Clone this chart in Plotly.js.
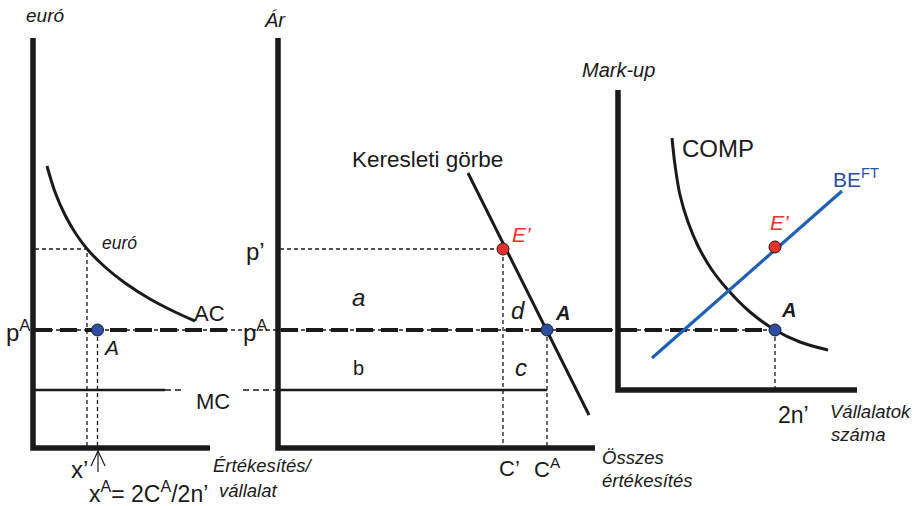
<!DOCTYPE html>
<html>
<head>
<meta charset="utf-8">
<script src="https://cdn.plot.ly/plotly-3.0.1.min.js"></script>
<style>html,body{margin:0;padding:0;background:#fff;}#chart{width:914px;height:506px;}</style>
</head>
<body>
<div id="chart"></div>
<script>
// ---- Data (diagram coordinates) ----
// Panel 1: firm
const p1AxisX = [33, 33, 210];
const p1AxisY = [38, 448, 448];
const acCurveX = [47, 55, 65, 76, 88, 105, 125, 150, 175, 195];
const acCurveY = [166, 192, 215, 234, 250, 267, 283, 299, 312, 321];
const mcSolidX = [35, 165];
const mcSolidY = [390, 390];
const mcDashX = [[165, 182], [243, 278]];
const mcDashY = [[390, 390], [390, 390]];
// Panel 2: market
const p2AxisX = [278, 278, 595];
const p2AxisY = [38, 448, 448];
const demandX = [468, 589];
const demandY = [173, 415];
const mc2X = [278, 547];
const mc2Y = [390, 390];
// Panel 3: mark-up
const p3AxisX = [618, 618, 857];
const p3AxisY = [90, 390, 390];
const compX = [672, 675, 680, 688, 698, 712, 728, 750, 775, 800, 828];
const compY = [138, 165, 195, 222, 246, 270, 290, 312, 330, 342, 350];
const beX = [652, 842];
const beY = [358, 191];
// Reference levels
const pPrimeY = 249, pAY = 330;
const xPrime = 87, xA = 97.5, cPrime = 503, cA = 547, nA = 775;
// Points
const bluePtsX = [xA, cA, nA];
const bluePtsY = [pAY, pAY, pAY];
const redPtsX = [cPrime, nA];
const redPtsY = [pPrimeY, 247];

const INK = '#1a1a1a';
const traces = [];
function line(x, y, w, color, dash, shape) {
  traces.push({x: x, y: y, type: 'scatter', mode: 'lines', hoverinfo: 'skip',
    line: {width: w, color: color || INK, dash: dash || 'solid', shape: shape || 'linear', smoothing: 1}});
}
const thinDash = '4px,3px';
// axes
line(p1AxisX, p1AxisY, 5.5);
line(p2AxisX, p2AxisY, 5.5);
line(p3AxisX, p3AxisY, 5.5);
// thin dashed guides
line([35, xPrime, xPrime], [pPrimeY, pPrimeY, 448], 1.3, INK, thinDash);
line([xA, xA], [pAY, 448], 1.3, INK, thinDash);
line([280, cPrime, cPrime], [pPrimeY, pPrimeY, 448], 1.3, INK, thinDash);
line([cA, cA], [pAY, 448], 1.3, INK, thinDash);
line([nA, nA], [pAY, 390], 1.3, INK, thinDash);
line([35, nA], [pAY, pAY], 1.3, INK, thinDash);
// thick dashed pA line
line([35, 227], [pAY, pAY], 4, INK, '17px,8px');
line([281, 603], [pAY, pAY], 4, INK, '17px,8px');
line([570, nA], [pAY, pAY], 4, INK, '17px,8px');
// MC
line(mcSolidX, mcSolidY, 2.5);
mcDashX.forEach((x, i) => line(x, mcDashY[i], 1.3, INK, '6px,4px'));
line(mc2X, mc2Y, 2.5);
// curves
line(acCurveX, acCurveY, 3, INK, 'solid', 'spline');
line(demandX, demandY, 3);
line(compX, compY, 3, INK, 'solid', 'spline');
line(beX, beY, 3.2, '#1f5fb4');
// arrow at xA
line([98, 98], [472, 451], 1.2);
line([91, 98, 105], [466, 451, 466], 1.2);
// points
traces.push({x: bluePtsX, y: bluePtsY, type: 'scatter', mode: 'markers', hoverinfo: 'skip',
  marker: {size: 12, color: '#2b4ea3', line: {color: '#1a1a1a', width: 1}}});
traces.push({x: redPtsX, y: redPtsY, type: 'scatter', mode: 'markers', hoverinfo: 'skip',
  marker: {size: 12, color: '#e8302a', line: {color: '#1a1a1a', width: 1}}});

const F = 'Liberation Sans, Arial, sans-serif';
function ann(x, y, text, size, opts) {
  opts = opts || {};
  return {x: x, y: y, xref: 'x', yref: 'y', text: text, showarrow: false, borderpad: 0,
    font: {family: F, size: size, color: opts.color || INK}, xanchor: opts.xa || 'left', yanchor: 'middle'};
}
const it = s => '<i>' + s + '</i>';
const annotations = [
  ann(25, 15, it('euró'), 19),
  ann(101, 243, it('euró'), 17.5),
  ann(193, 313, 'AC', 22),
  ann(5, 331, 'p<sup>A</sup>', 24),
  ann(102, 347, it('A'), 21),
  ann(195, 401, 'MC', 22),
  ann(70, 469, 'x’', 24),
  ann(88, 492, 'x<sup>A</sup>= 2C<sup>A</sup>/2n’', 23),
  ann(212, 465, it('Értékesítés/'), 18.5),
  ann(218, 490, it('vállalat'), 18.5),
  ann(263, 20, it('Ár'), 20),
  ann(245, 251, 'p’', 24),
  ann(242, 331, 'p<sup>A</sup>', 24),
  ann(351, 297, it('a'), 24),
  ann(352, 368, 'b', 20),
  ann(514, 367, it('c'), 24),
  ann(510, 310, it('d'), 24),
  ann(554, 313, '<b><i>A</i></b>', 20),
  ann(511, 234, it('E’'), 21, {color: '#e8302a'}),
  ann(351, 159, 'Keresleti görbe', 22.5),
  ann(498, 468, 'C’', 22),
  ann(533, 468, 'C<sup>A</sup>', 22),
  ann(601, 457, it('Összes'), 18.5),
  ann(601, 480, it('értékesítés'), 18.5),
  ann(581, 70, it('Mark-up'), 20),
  ann(681, 148, 'COMP', 24),
  ann(832, 178, 'BE<sup>FT</sup>', 21, {color: '#2b4ea3'}),
  ann(769, 222, it('E’'), 21, {color: '#e8302a'}),
  ann(780, 310, '<b><i>A</i></b>', 20),
  ann(777, 415, '2n’', 23),
  ann(829, 411, it('Vállalatok'), 18.5),
  ann(830, 434, it('száma'), 18.5)
];

const layout = {
  width: 914, height: 506,
  margin: {l: 0, r: 0, t: 0, b: 0},
  paper_bgcolor: '#ffffff', plot_bgcolor: '#ffffff',
  showlegend: false,
  xaxis: {range: [0, 914], visible: false, fixedrange: true},
  yaxis: {range: [506, 0], visible: false, fixedrange: true},
  annotations: annotations
};
Plotly.newPlot('chart', traces, layout, {staticPlot: true, displayModeBar: false});
</script>
</body>
</html>
